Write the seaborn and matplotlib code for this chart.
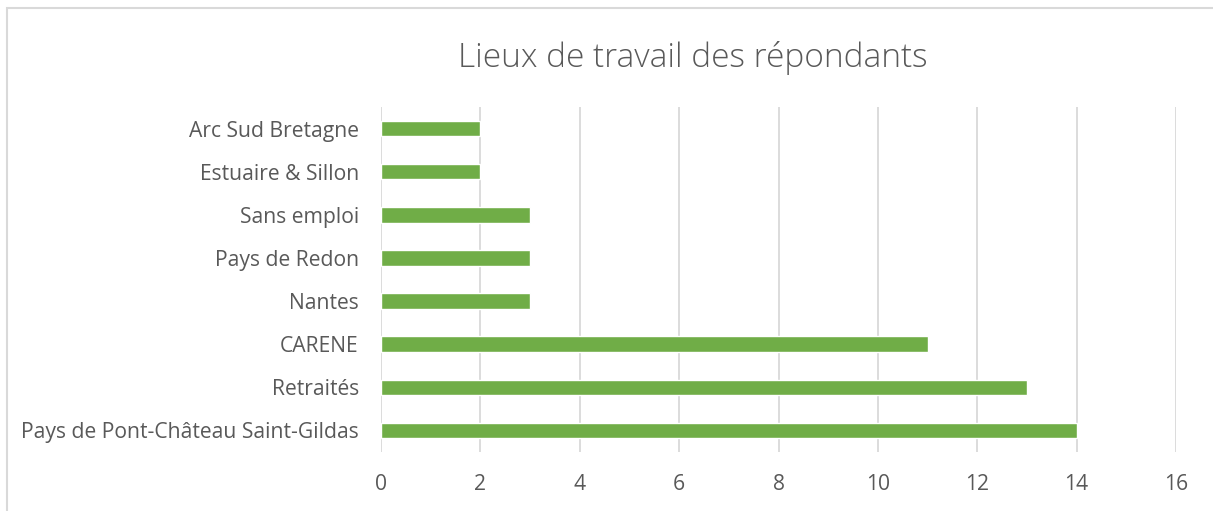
import numpy as np
import pandas as pd
import matplotlib
matplotlib.use('Agg')
import matplotlib.pyplot as plt
import seaborn as sns

# data
lieux = ['Arc Sud Bretagne', 'Estuaire & Sillon', 'Sans emploi', 'Pays de Redon',
         'Nantes', 'CARENE', 'Retraités', 'Pays de Pont-Château Saint-Gildas']
nb_repondants = [2, 2, 3, 3, 3, 11, 13, 14]
xticks = [0, 2, 4, 6, 8, 10, 12, 14, 16]

df = pd.DataFrame({'lieu': lieux, 'n': nb_repondants})

sns.set_style('white')
plt.rcParams['font.family'] = ['Open Sans', 'DejaVu Sans']

fig = plt.figure(figsize=(12.13, 5.11), dpi=100)
ax = fig.add_axes([381/1213, 1-452/511, (1176-381)/1213, (452-107)/511])

sns.barplot(data=df, y='lieu', x='n', color='#70AD47', saturation=1,
            width=0.36, orient='h', ax=ax, zorder=3)

ax.set_xlim(0, 16)
ax.set_xticks(xticks)
ax.set_ylim(len(lieux)-0.5, -0.5)
ax.grid(axis='x', color='#D9D9D9', linewidth=1.3, zorder=0)
ax.set_axisbelow(True)
for s in ax.spines.values():
    s.set_visible(False)
ax.tick_params(axis='both', length=0, labelsize=15.2, labelcolor='#595959')
ax.tick_params(axis='y', pad=16)
ax.tick_params(axis='x', pad=16)
ax.set_xlabel('')
ax.set_ylabel('')

fig.text(693/1213, 1-58/511, 'Lieux de travail des répondants', ha='center', va='center',
         fontsize=24, color='#595959', fontweight='light')

# chart frame
fig.patches.append(plt.Rectangle((7/1213, -0.1), 1.2, 1-8/511+0.1, transform=fig.transFigure,
                                 fill=False, edgecolor='#D9D9D9', linewidth=1.5))

fig.savefig('out.png', dpi=100)
